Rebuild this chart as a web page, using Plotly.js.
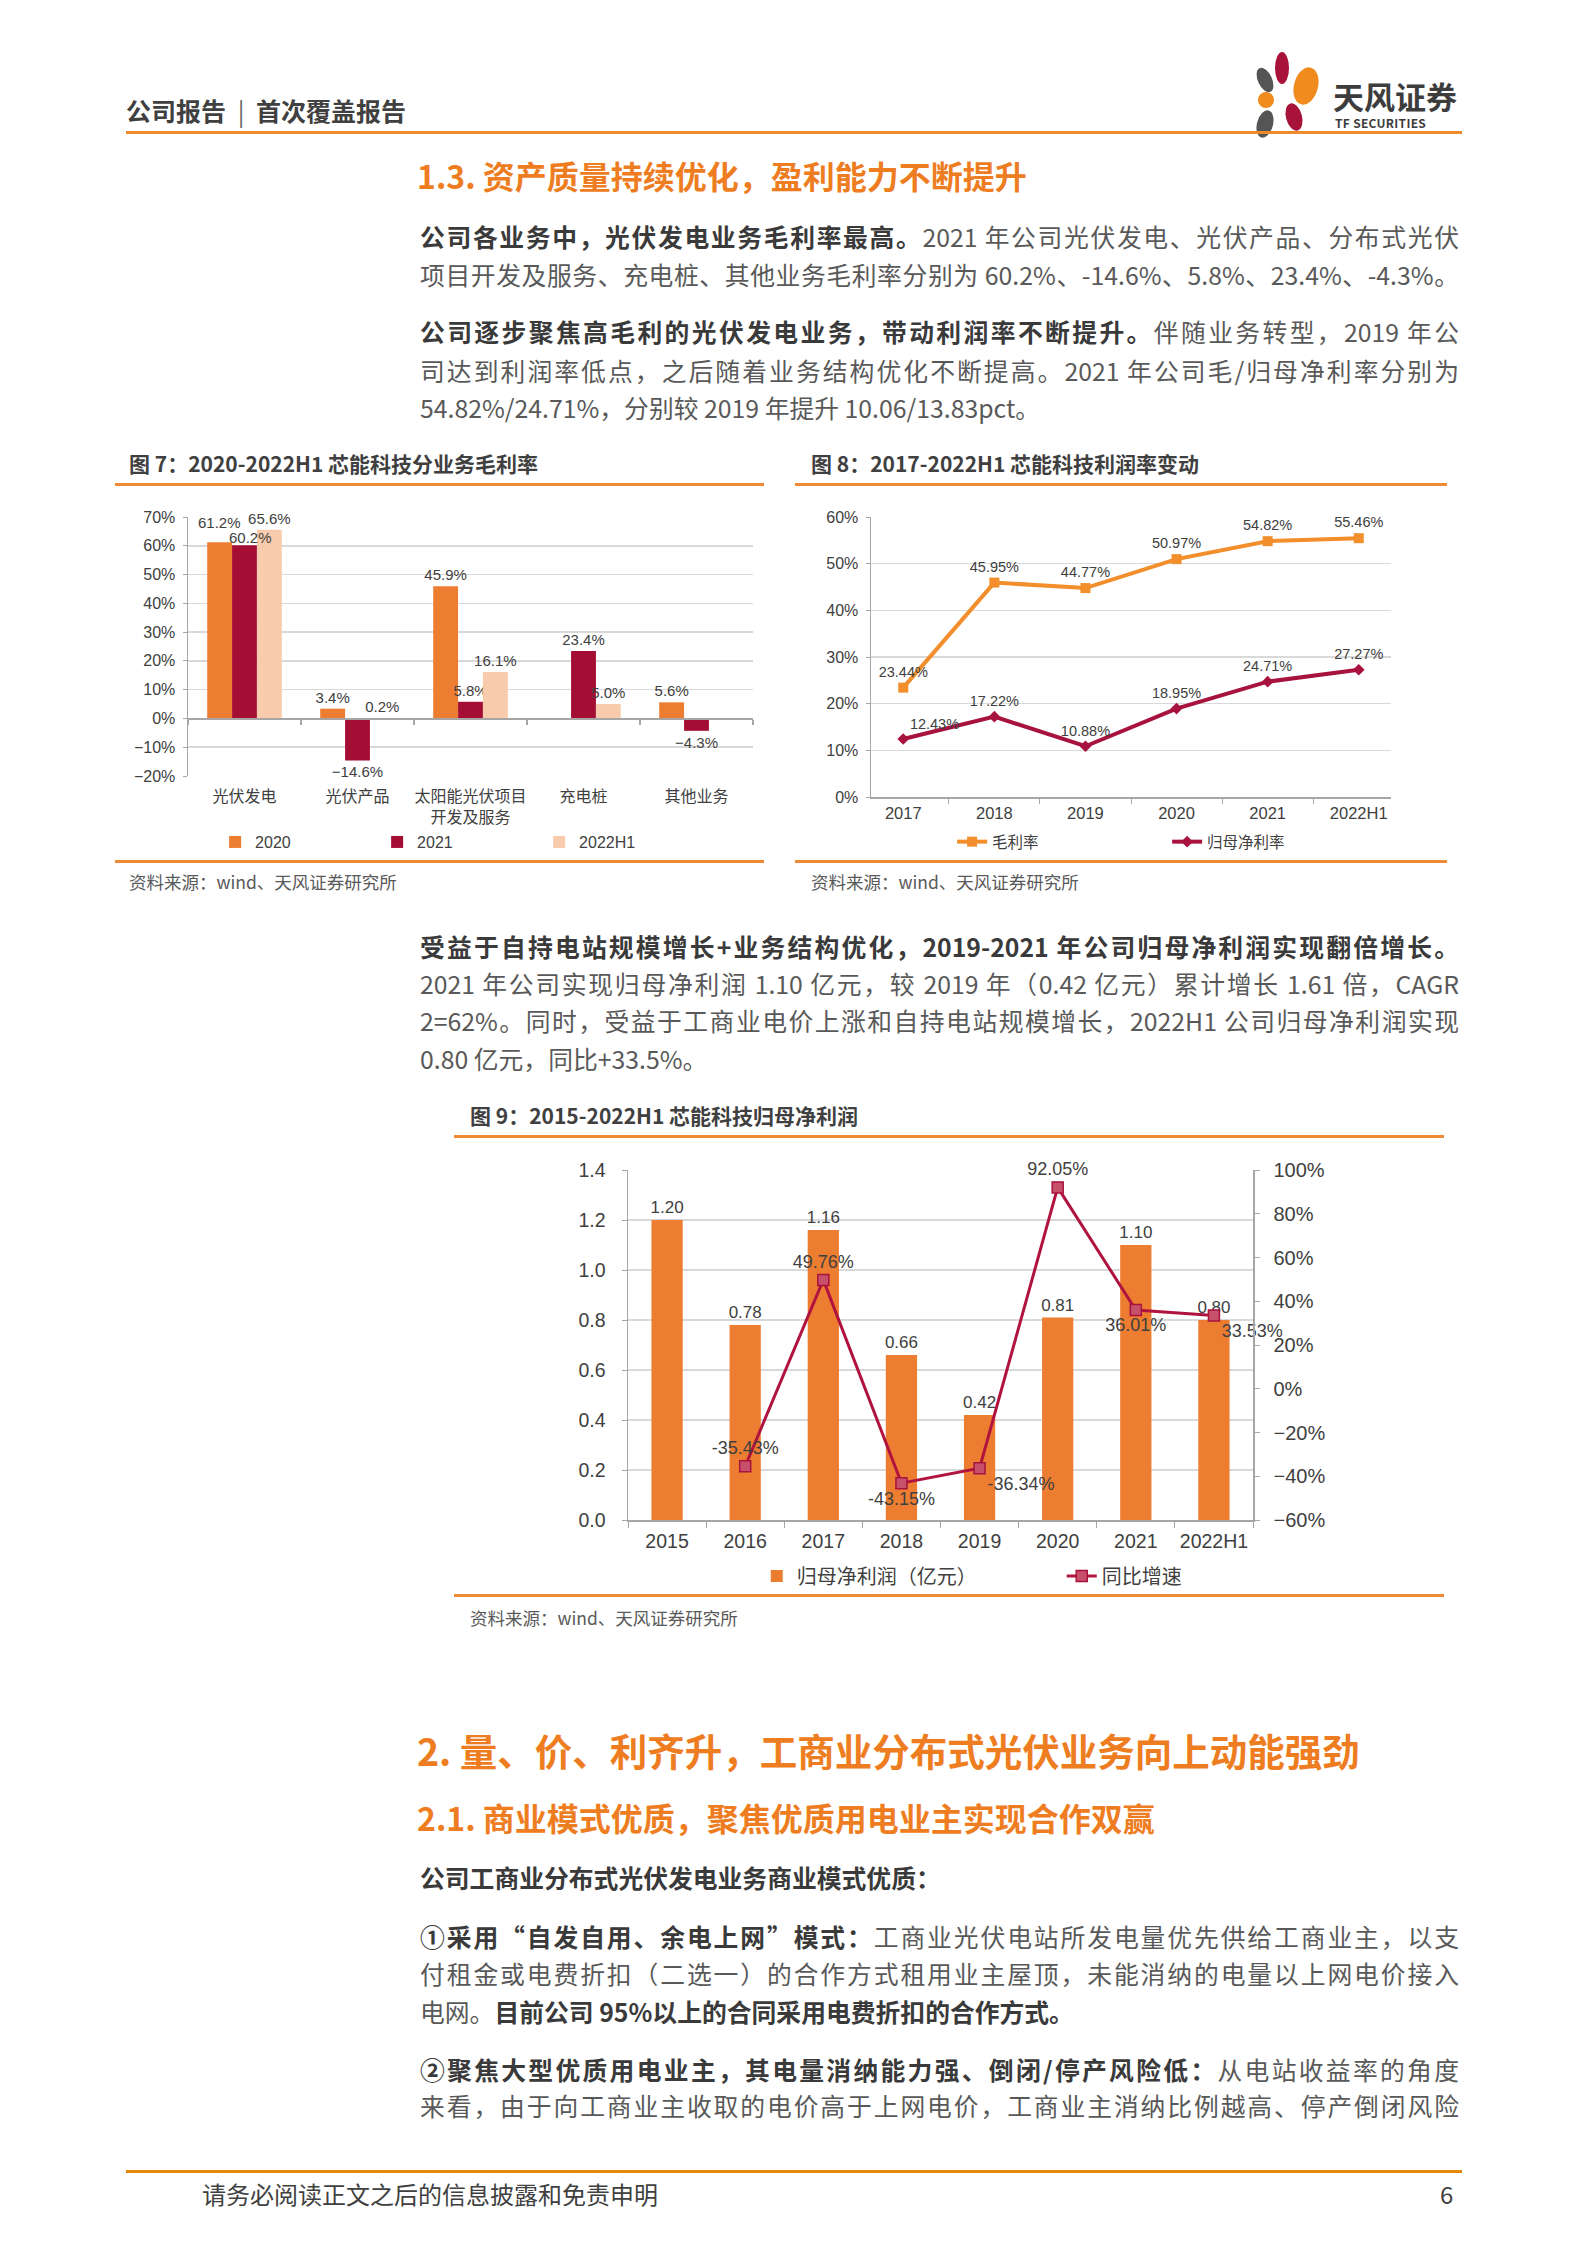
<!DOCTYPE html>
<html><head><meta charset="utf-8">
<script src="https://cdn.plot.ly/plotly-3.0.1.min.js"></script>
<style>
html,body{margin:0;padding:0;background:#fff}
#page{position:relative;width:1587px;height:2245px;background:#fff;overflow:hidden;font-family:"Noto Sans CJK SC","Noto Sans",sans-serif}
.abs{position:absolute;white-space:nowrap}
.ln{position:absolute;left:420px;width:1039px;height:38px;line-height:38px;font-size:24.8px;color:#595959;white-space:nowrap;text-align:justify;text-align-last:justify}
.ln.l{text-align-last:left}
.ln b{color:#3a3a3a;font-weight:700}
.h{position:absolute;left:417px;color:#EE7D22;font-weight:700;white-space:nowrap}
.ctitle{position:absolute;font-size:21px;font-weight:700;color:#404040;white-space:nowrap;height:30px;line-height:30px}
.src{position:absolute;font-size:17.5px;color:#595959;white-space:nowrap;height:26px;line-height:26px}
.rule{position:absolute;height:3px;background:#EE8A33}
.chart{position:absolute}
</style></head>
<body>
<div id="page">
  <!-- header -->
  <div class="abs" style="left:126px;top:92px;height:36px;line-height:36px;font-size:25px;font-weight:700;color:#404040">公司报告<span style="display:inline-block;width:30px;text-align:center;font-weight:400;color:#666">|</span>首次覆盖报告</div>
  <svg class="abs" style="left:1244px;top:45px" width="95" height="100" viewBox="1250 45 95 100">
    <ellipse cx="1288" cy="68" rx="7" ry="16" fill="#A8133A"/>
    <ellipse cx="1312" cy="86" rx="12" ry="19" fill="#F08C1E" transform="rotate(15 1312 86)"/>
    <ellipse cx="1271" cy="80" rx="7" ry="13" fill="#555555" transform="rotate(-25 1271 80)"/>
    <ellipse cx="1272" cy="100" rx="8" ry="8" fill="#F08C1E"/>
    <ellipse cx="1300" cy="117" rx="8" ry="14" fill="#A8133A" transform="rotate(-15 1300 117)"/>
    <ellipse cx="1271" cy="124" rx="8" ry="14" fill="#555555" transform="rotate(15 1271 124)"/>
  </svg>
  <div class="abs" style="left:1333px;top:79px;height:34px;line-height:34px;font-size:31px;font-weight:700;color:#3d3d3d">天风证券</div>
  <div class="abs" style="left:1335px;top:115px;height:15px;line-height:15px;font-size:12px;font-weight:700;color:#3d3d3d;letter-spacing:0.3px">TF SECURITIES</div>
  <div class="rule" style="left:126px;top:131px;width:1336px;background:#EF8A2B"></div>

  <div class="h" style="top:153px;height:44px;line-height:44px;font-size:32px">1.3. 资产质量持续优化，盈利能力不断提升</div>

  <div class="ln" style="top:217px"><b>公司各业务中，光伏发电业务毛利率最高。</b>2021 年公司光伏发电、光伏产品、分布式光伏</div>
  <div class="ln" style="top:255px">项目开发及服务、充电桩、其他业务毛利率分别为 60.2%、-14.6%、5.8%、23.4%、-4.3%。</div>

  <div class="ln" style="top:312px"><b>公司逐步聚焦高毛利的光伏发电业务，带动利润率不断提升。</b>伴随业务转型，2019 年公</div>
  <div class="ln" style="top:351px">司达到利润率低点，之后随着业务结构优化不断提高。2021 年公司毛/归母净利率分别为</div>
  <div class="ln l" style="top:388px">54.82%/24.71%，分别较 2019 年提升 10.06/13.83pct。</div>

  <!-- fig 7 -->
  <div class="ctitle" style="left:129px;top:448px">图 7：2020-2022H1 芯能科技分业务毛利率</div>
  <div class="rule" style="left:115px;top:483px;width:649px"></div>
  <div id="fig7" class="chart" style="left:115px;top:490px;width:650px;height:368px"></div>
  <div class="rule" style="left:115px;top:860px;width:649px"></div>
  <div class="src" style="left:129px;top:869px">资料来源：wind、天风证券研究所</div>

  <!-- fig 8 -->
  <div class="ctitle" style="left:811px;top:448px">图 8：2017-2022H1 芯能科技利润率变动</div>
  <div class="rule" style="left:795px;top:483px;width:652px"></div>
  <div id="fig8" class="chart" style="left:795px;top:490px;width:652px;height:368px"></div>
  <div class="rule" style="left:795px;top:860px;width:652px"></div>
  <div class="src" style="left:811px;top:869px">资料来源：wind、天风证券研究所</div>

  <div class="ln" style="top:927px"><b>受益于自持电站规模增长+业务结构优化，2019-2021 年公司归母净利润实现翻倍增长。</b></div>
  <div class="ln" style="top:964px">2021 年公司实现归母净利润 1.10 亿元，较 2019 年（0.42 亿元）累计增长 1.61 倍，CAGR</div>
  <div class="ln" style="top:1001px">2=62%。同时，受益于工商业电价上涨和自持电站规模增长，2022H1 公司归母净利润实现</div>
  <div class="ln l" style="top:1039px">0.80 亿元，同比+33.5%。</div>

  <!-- fig 9 -->
  <div class="ctitle" style="left:470px;top:1100px">图 9：2015-2022H1 芯能科技归母净利润</div>
  <div class="rule" style="left:454px;top:1135px;width:990px"></div>
  <div id="fig9" class="chart" style="left:454px;top:1145px;width:990px;height:447px"></div>
  <div class="rule" style="left:454px;top:1594px;width:990px"></div>
  <div class="src" style="left:470px;top:1605px">资料来源：wind、天风证券研究所</div>

  <div class="h" style="top:1727px;height:46px;line-height:46px;font-size:37.5px">2. 量、价、利齐升，工商业分布式光伏业务向上动能强劲</div>
  <div class="h" style="top:1795px;height:44px;line-height:44px;font-size:32px">2.1. 商业模式优质，聚焦优质用电业主实现合作双赢</div>

  <div class="ln l" style="top:1858px"><b>公司工商业分布式光伏发电业务商业模式优质：</b></div>
  <div class="ln" style="top:1917px"><b>①采用“自发自用、余电上网”模式：</b>工商业光伏电站所发电量优先供给工商业主，以支</div>
  <div class="ln" style="top:1954px">付租金或电费折扣（二选一）的合作方式租用业主屋顶，未能消纳的电量以上网电价接入</div>
  <div class="ln l" style="top:1992px">电网。<b>目前公司 95%以上的合同采用电费折扣的合作方式。</b></div>
  <div class="ln" style="top:2050px"><b>②聚焦大型优质用电业主，其电量消纳能力强、倒闭/停产风险低：</b>从电站收益率的角度</div>
  <div class="ln" style="top:2086px">来看，由于向工商业主收取的电价高于上网电价，工商业主消纳比例越高、停产倒闭风险</div>

  <!-- footer -->
  <div class="rule" style="left:126px;top:2170px;width:1336px;background:#E5890A"></div>
  <div class="abs" style="left:202px;top:2177px;height:34px;line-height:34px;font-size:24px;color:#404040">请务必阅读正文之后的信息披露和免责申明</div>
  <div class="abs" style="left:1440px;top:2177px;height:34px;line-height:34px;font-size:24px;color:#404040">6</div>
</div>

<script>
const FONT = 'Liberation Sans, Noto Sans CJK SC, sans-serif';
const GRID = '#D9D9D9', AX = '#A6A6A6', TXT = '#404040';

// ---------- Figure 7 data ----------
const cat7 = ['光伏发电', '光伏产品', '太阳能光伏项目<br>开发及服务', '充电桩', '其他业务'];
const gm2020 = [61.2, 3.4, 45.9, null, 5.6];
const gm2021 = [60.2, -14.6, 5.8, 23.4, -4.3];
const gm2022H1 = [65.6, 0.2, 16.1, 5.0, null];
const series7Names = ['2020', '2021', '2022H1'];
const y7Ticks = [-20, -10, 0, 10, 20, 30, 40, 50, 60, 70];

// ---------- Figure 8 data ----------
const years8 = ['2017', '2018', '2019', '2020', '2021', '2022H1'];
const grossMargin = [23.44, 45.95, 44.77, 50.97, 54.82, 55.46];
const netMargin = [12.43, 17.22, 10.88, 18.95, 24.71, 27.27];
const y8Ticks = [0, 10, 20, 30, 40, 50, 60];

// ---------- Figure 9 data ----------
const years9 = ['2015', '2016', '2017', '2018', '2019', '2020', '2021', '2022H1'];
const netProfit = [1.20, 0.78, 1.16, 0.66, 0.42, 0.81, 1.10, 0.80];
const yoyGrowth = [null, -35.43, 49.76, -43.15, -36.34, 92.05, 36.01, 33.53];
const y9Ticks = [0, 0.2, 0.4, 0.6, 0.8, 1.0, 1.2, 1.4];
const y9RightTicks = [-60, -40, -20, 0, 20, 40, 60, 80, 100];

function pct1(v) { return v == null ? '' : (v < 0 ? '\u2212' : '') + Math.abs(v).toFixed(1) + '%'; }
function tickPct(v) { return (v < 0 ? '\u2212' : '') + Math.abs(v) + '%'; }
const cfg = {staticPlot: true, displayModeBar: false};

// ---------- Figure 7 ----------
(function () {
  const colors = ['#ED7D31', '#A50E34', '#F8CBAD'];
  const vals = [gm2020, gm2021, gm2022H1];
  const W = 650, H = 368, M = {l: 73, r: 12, t: 27, b: 82, autoexpand: false};
  const bargap = 0.34;
  const barPx = (W - M.l - M.r) / cat7.length * (1 - bargap) / vals.length;
  // the first group's 2020 / 2021 labels are placed as annotations (staggered as in the source)
  const traces = vals.map((v, i) => ({
    type: 'bar', name: series7Names[i], x: cat7, y: v,
    marker: {color: colors[i]},
    text: v.map((d, j) => (j === 0 && i < 2) ? '' : pct1(d)), textposition: 'outside', constraintext: 'none', cliponaxis: false,
    textfont: {size: 15, color: TXT}, hoverinfo: 'skip'
  }));
  traces.push({
    type: 'scatter', x: cat7.map((_, i) => i), y: cat7.map(() => 0), xaxis: 'x2', yaxis: 'y',
    mode: 'markers', marker: {opacity: 0}, showlegend: false, hoverinfo: 'skip'
  });
  const annotations = [
    {x: cat7[0], y: gm2020[0], xref: 'x', yref: 'y', text: pct1(gm2020[0]), showarrow: false,
      xshift: -barPx, yanchor: 'bottom', yshift: 9, font: {size: 15, color: TXT}},
    {x: cat7[0], y: gm2021[0], xref: 'x', yref: 'y', text: pct1(gm2021[0]), showarrow: false,
      xshift: 6, yanchor: 'bottom', yshift: -3, font: {size: 15, color: TXT}}
  ];
  const bounds = cat7.map((_, i) => i - 0.5).concat([cat7.length - 0.5]);
  const yMin = y7Ticks[0], yMax = y7Ticks[y7Ticks.length - 1];
  const layout = {
    width: W, height: H, margin: M,
    paper_bgcolor: 'rgba(0,0,0,0)', plot_bgcolor: 'rgba(0,0,0,0)',
    font: {family: FONT, size: 15, color: TXT},
    barmode: 'group', bargap: bargap, bargroupgap: 0,
    annotations: annotations,
    xaxis: {type: 'category', range: [-0.5, cat7.length - 0.5], showline: false, showgrid: false, ticks: '',
      tickfont: {size: 16, color: TXT}, ticklabelstandoff: 9, tickangle: 0, zeroline: false, automargin: false},
    xaxis2: {overlaying: 'x', anchor: 'free', position: (0 - yMin) / (yMax - yMin),
      range: [-0.5, cat7.length - 0.5], tickmode: 'array', tickvals: bounds, ticks: 'outside', ticklen: 5,
      tickcolor: AX, tickwidth: 1.2, showticklabels: false, showgrid: false, showline: true,
      linecolor: AX, linewidth: 1.5, zeroline: false},
    yaxis: {range: [yMin, yMax], tickmode: 'array', tickvals: y7Ticks,
      ticktext: y7Ticks.map(tickPct), showgrid: true, gridcolor: GRID, gridwidth: 1.5, showline: true,
      linecolor: AX, linewidth: 1.5, ticks: 'outside', ticklen: 4, tickcolor: AX, zeroline: false,
      tickfont: {size: 16, color: TXT}, ticklabelstandoff: 4, automargin: false},
    showlegend: true,
    legend: {orientation: 'h', x: 0.048, xanchor: 'left', y: -0.255, yanchor: 'middle', bgcolor: 'rgba(0,0,0,0)',
      entrywidth: 117, entrywidthmode: 'pixels', font: {size: 16, color: TXT}, itemwidth: 30, traceorder: 'normal'}
  };
  Plotly.newPlot('fig7', traces, layout, cfg);
})();

// ---------- Figure 8 ----------
(function () {
  const traces = [
    {type: 'scatter', name: '毛利率', x: years8, y: grossMargin, mode: 'lines+markers+text',
      line: {color: '#F28E2B', width: 4}, marker: {symbol: 'square', size: 10, color: '#F28E2B'},
      text: grossMargin.map(v => v.toFixed(2) + '%'), textposition: 'top center',
      textfont: {size: 14.5, color: TXT}, cliponaxis: false, hoverinfo: 'skip'},
    {type: 'scatter', name: '归母净利率', x: years8, y: netMargin, mode: 'lines+markers+text',
      line: {color: '#A8123E', width: 4}, marker: {symbol: 'diamond', size: 9, color: '#A8123E'},
      text: netMargin.map(v => v.toFixed(2) + '%'),
      textposition: netMargin.map((_, i) => i === 0 ? 'top right' : 'top center'),
      textfont: {size: 14.5, color: TXT}, cliponaxis: false, hoverinfo: 'skip'}
  ];
  const layout = {
    width: 652, height: 368, margin: {l: 76, r: 56, t: 27, b: 61, autoexpand: false},
    paper_bgcolor: 'rgba(0,0,0,0)', plot_bgcolor: 'rgba(0,0,0,0)',
    font: {family: FONT, size: 15, color: TXT},
    xaxis: {type: 'category', tickson: 'boundaries', ticks: 'outside', ticklen: 5, tickcolor: AX,
      showline: true, linecolor: AX, linewidth: 1.5, showgrid: false, zeroline: false, tickangle: 0,
      tickfont: {size: 16.5, color: TXT}, ticklabelstandoff: 1, automargin: false},
    yaxis: {range: [y8Ticks[0], y8Ticks[y8Ticks.length - 1]], tickmode: 'array', tickvals: y8Ticks,
      ticktext: y8Ticks.map(tickPct), showgrid: true, gridcolor: GRID, gridwidth: 1.5, showline: true,
      linecolor: AX, linewidth: 1.5, ticks: 'outside', ticklen: 4, tickcolor: AX, zeroline: false,
      tickfont: {size: 16, color: TXT}, ticklabelstandoff: 4, automargin: false},
    showlegend: true,
    legend: {orientation: 'h', x: 0.156, xanchor: 'left', y: -0.161, yanchor: 'middle', bgcolor: 'rgba(0,0,0,0)',
      entrywidth: 170, entrywidthmode: 'pixels', font: {size: 15.5, color: TXT}, traceorder: 'normal'}
  };
  Plotly.newPlot('fig8', traces, layout, cfg);
})();

// ---------- Figure 9 ----------
(function () {
  const pos = ['top center', 'top center', 'top center', 'bottom center', 'bottom right', 'top center', 'bottom center', 'bottom right'];
  const traces = [
    {type: 'bar', name: '归母净利润（亿元）', x: years9, y: netProfit, marker: {color: '#ED7D31'},
      text: netProfit.map(v => v.toFixed(2)), textposition: 'outside', constraintext: 'none', cliponaxis: false,
      textfont: {size: 17, color: TXT}, hoverinfo: 'skip'},
    {type: 'scatter', name: '同比增速', x: years9, y: yoyGrowth, yaxis: 'y2', mode: 'lines+markers+text',
      line: {color: '#B0143E', width: 3}, marker: {symbol: 'square', size: 11, color: '#C7506B', line: {color: '#A8123E', width: 1.5}},
      text: yoyGrowth.map(v => v == null ? '' : v.toFixed(2) + '%'), textposition: pos,
      textfont: {size: 18, color: TXT}, cliponaxis: false, hoverinfo: 'skip', connectgaps: false}
  ];
  const layout = {
    width: 990, height: 447, margin: {l: 174, r: 191, t: 25, b: 72, autoexpand: false},
    paper_bgcolor: 'rgba(0,0,0,0)', plot_bgcolor: 'rgba(0,0,0,0)',
    font: {family: FONT, size: 18, color: TXT},
    bargap: 0.6,
    xaxis: {type: 'category', tickson: 'boundaries', ticks: 'outside', ticklen: 6, tickcolor: AX,
      showline: true, linecolor: AX, linewidth: 1.5, showgrid: false, zeroline: false, tickangle: 0,
      tickfont: {size: 19.5, color: TXT}, ticklabelstandoff: 3, automargin: false},
    yaxis: {range: [y9Ticks[0], y9Ticks[y9Ticks.length - 1]], tickmode: 'array', tickvals: y9Ticks,
      ticktext: y9Ticks.map(v => v.toFixed(1)), showgrid: true, gridcolor: GRID, gridwidth: 1.5, showline: true,
      linecolor: AX, linewidth: 1.5, ticks: 'outside', ticklen: 5, tickcolor: AX, zeroline: false,
      tickfont: {size: 19.5, color: TXT}, ticklabelstandoff: 12, automargin: false},
    yaxis2: {overlaying: 'y', side: 'right', range: [y9RightTicks[0], y9RightTicks[y9RightTicks.length - 1]],
      tickmode: 'array', tickvals: y9RightTicks, ticktext: y9RightTicks.map(tickPct), showgrid: false,
      showline: true, linecolor: AX, linewidth: 1.5, ticks: 'outside', ticklen: 5, tickcolor: AX, zeroline: false,
      tickfont: {size: 20, color: TXT}, ticklabelstandoff: 10, automargin: false},
    showlegend: true,
    legend: {orientation: 'h', x: 0.206, xanchor: 'left', y: -0.16, yanchor: 'middle', bgcolor: 'rgba(0,0,0,0)',
      entrywidth: 260, entrywidthmode: 'pixels', font: {size: 20, color: TXT}, traceorder: 'normal'}
  };
  Plotly.newPlot('fig9', traces, layout, cfg);
})();
</script>
</body></html>
